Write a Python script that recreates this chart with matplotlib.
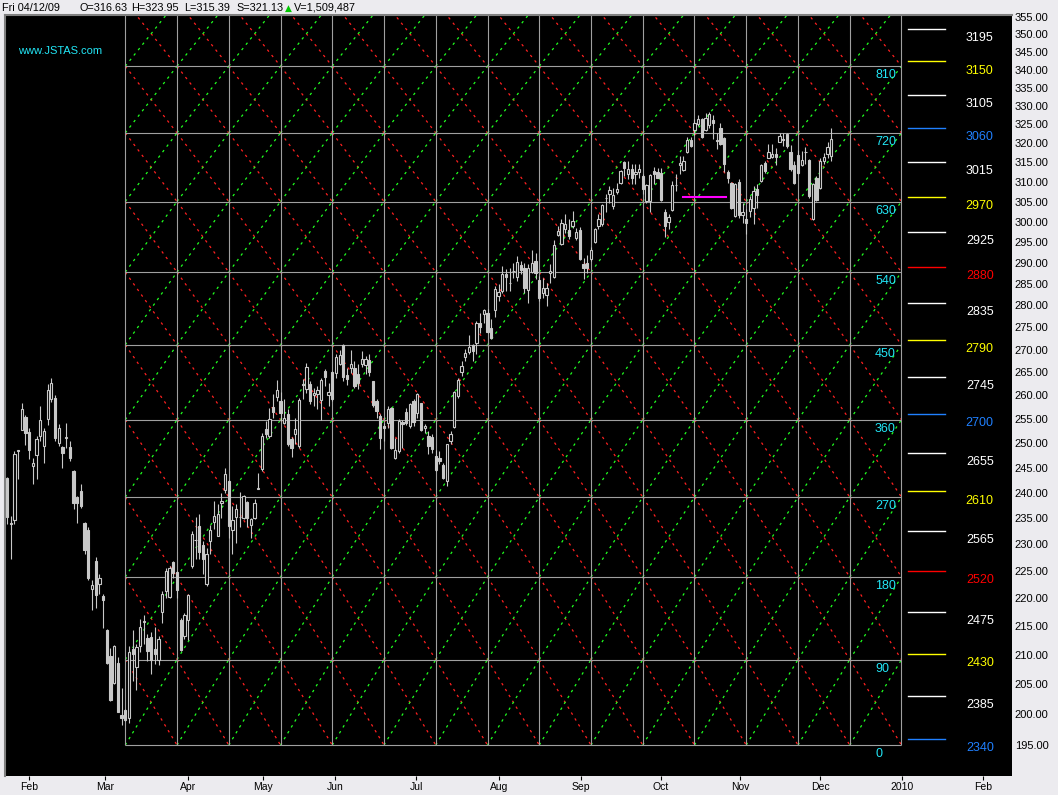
import numpy as np
import matplotlib
matplotlib.use('Agg')
import matplotlib.pyplot as plt
from matplotlib.collections import LineCollection
from matplotlib.ticker import FixedLocator, NullLocator, FuncFormatter
import matplotlib.transforms as mtrans

plt.rcParams['font.family'] = ['Liberation Sans', 'DejaVu Sans']

# daily bars, 23 Jan 2009 .. 4 Dec 2009
opens = [242.9, 234.1, 234.7, 248.4, 252.7, 255.4, 252.3, 245.3, 247.6, 251.5,
         249.4, 255.0, 259.3, 259.5, 250.0, 249.2, 251.1, 249.2, 244.3, 239.2,
         240.4, 234.1, 232.8, 221.7, 226.9, 222.6, 220.4, 214.4, 209.8, 205.2,
         208.6, 199.9, 200.7, 199.4, 211.0, 207.9, 211.6, 215.7, 212.9, 213.1,
         211.0, 209.1, 217.6, 221.4, 220.3, 226.7, 224.9, 216.1, 213.3, 216.1,
         226.0, 230.9, 233.5, 229.9, 222.6, 230.7, 234.3, 231.6, 238.0, 240.6,
         242.3, 232.8, 235.3, 235.3, 235.1, 238.2, 233.7, 235.1, 240.8, 244.7,
         252.9, 251.5, 257.5, 259.7, 258.8, 254.2, 256.1, 250.9, 251.9, 249.4,
         262.3, 261.5, 262.5, 260.1, 260.3, 259.1, 265.3, 260.1, 265.1, 264.9,
         266.8, 271.0, 264.4, 266.0, 266.0, 264.6, 266.8, 266.6, 267.7, 263.1,
         258.8, 255.6, 253.6, 254.2, 257.3, 247.0, 248.4, 254.4, 256.5, 253.6,
         258.8, 256.3, 258.4, 253.1, 251.5, 251.3, 247.4, 247.0, 245.5, 242.3,
         250.5, 253.4, 259.9, 265.1, 268.4, 269.5, 271.0, 271.5, 276.0, 278.1,
         278.3, 274.9, 279.0, 282.2, 283.4, 287.4, 285.3, 288.1, 286.7, 289.5,
         288.8, 283.6, 287.8, 290.5, 286.0, 282.9, 282.4, 287.6, 286.7, 296.7,
         294.5, 298.2, 298.0, 298.9, 296.0, 298.0, 289.7, 290.0, 291.0, 295.0,
         298.9, 299.4, 305.8, 306.9, 303.9, 307.4, 309.7, 315.1, 312.0, 313.3,
         312.0, 312.5, 311.5, 305.2, 305.2, 312.8, 312.5, 312.3, 302.4, 299.9,
         302.9, 309.2, 314.3, 313.1, 317.8, 320.8, 323.5, 325.1, 326.5, 323.5,
         324.9, 326.2, 320.8, 324.0, 321.3, 312.5, 309.8, 301.5, 310.0, 301.7,
         300.7, 302.7, 303.4, 308.2, 310.2, 314.9, 316.2, 316.5, 317.2, 320.4,
         321.0, 322.4, 317.8, 314.4, 317.0, 314.4, 317.7, 315.7, 300.7, 311.0,
         308.4, 315.4, 317.2, 316.63]
highs = [243.2, 235.4, 248.4, 248.6, 258.4, 255.9, 253.1, 247.0, 251.5, 257.8,
         253.1, 262.5, 263.8, 260.1, 254.0, 249.4, 254.2, 250.5, 244.5, 239.4,
         241.7, 234.3, 233.3, 223.4, 227.6, 224.5, 220.8, 214.5, 211.2, 211.7,
         209.6, 204.4, 200.8, 211.6, 214.4, 211.9, 216.3, 217.0, 213.6, 214.0,
         214.9, 213.3, 221.4, 225.6, 226.0, 226.9, 225.0, 216.5, 217.4, 220.8,
         232.6, 235.3, 235.8, 230.7, 229.3, 233.7, 238.4, 237.8, 239.9, 244.9,
         242.5, 237.4, 237.8, 240.1, 239.6, 238.4, 235.1, 238.8, 243.9, 252.1,
         254.6, 257.3, 260.3, 263.3, 260.8, 259.3, 257.1, 251.3, 255.2, 259.5,
         263.6, 267.1, 263.1, 261.6, 262.0, 263.8, 265.8, 262.7, 265.3, 269.0,
         269.9, 271.3, 266.0, 269.9, 267.5, 266.8, 269.7, 268.6, 269.0, 263.1,
         259.3, 256.1, 254.2, 257.8, 257.5, 251.1, 255.0, 254.8, 257.3, 258.4,
         259.3, 260.6, 258.4, 254.0, 252.5, 251.9, 248.6, 248.4, 246.0, 249.8,
         252.5, 261.0, 263.8, 267.5, 270.2, 273.3, 271.3, 276.5, 278.3, 279.2,
         279.2, 276.9, 284.6, 285.0, 289.3, 288.6, 288.8, 289.9, 291.7, 290.5,
         290.0, 289.7, 293.1, 292.4, 286.9, 286.4, 285.3, 289.7, 295.5, 299.0,
         300.7, 302.0, 300.7, 302.7, 298.5, 298.7, 291.2, 291.9, 293.8, 298.5,
         302.0, 304.4, 306.9, 309.0, 308.5, 309.7, 313.1, 315.4, 315.4, 314.6,
         314.6, 314.6, 312.0, 309.5, 312.0, 313.8, 313.6, 313.6, 303.2, 302.0,
         310.2, 312.0, 316.7, 316.7, 321.5, 321.5, 326.5, 327.4, 326.8, 328.1,
         328.4, 327.4, 322.7, 325.4, 321.5, 313.0, 309.9, 309.7, 310.8, 304.7,
         303.2, 306.4, 309.0, 309.5, 314.6, 315.4, 319.9, 319.9, 318.8, 322.7,
         322.7, 322.7, 319.4, 315.4, 318.3, 318.0, 319.1, 315.9, 309.7, 311.5,
         316.2, 317.5, 320.2, 323.95]
lows = [233.9, 227.3, 233.9, 242.7, 252.7, 249.6, 246.8, 241.7, 242.7, 250.5,
        246.0, 253.8, 258.6, 250.5, 249.4, 244.9, 249.0, 246.4, 236.8, 234.1,
        237.0, 228.2, 223.4, 217.9, 218.3, 220.8, 214.7, 208.5, 202.2, 205.1,
        200.3, 198.2, 198.9, 198.6, 205.5, 204.0, 210.5, 211.9, 209.0, 206.7,
        208.4, 208.3, 215.6, 220.1, 220.1, 223.7, 220.1, 210.7, 212.8, 212.6,
        225.6, 227.3, 227.3, 224.4, 222.2, 228.2, 233.0, 231.6, 235.1, 239.9,
        231.2, 228.2, 230.3, 233.3, 234.9, 233.3, 231.2, 234.9, 240.8, 244.3,
        251.1, 251.1, 255.2, 258.8, 254.6, 254.0, 249.4, 247.2, 249.8, 249.0,
        259.3, 260.6, 258.2, 257.8, 257.1, 254.8, 262.0, 257.8, 258.8, 263.8,
        266.6, 263.1, 262.2, 264.9, 261.6, 261.4, 266.2, 264.6, 264.2, 257.5,
        255.2, 248.8, 250.5, 253.1, 248.8, 246.8, 248.0, 249.0, 253.8, 253.1,
        253.6, 255.2, 252.5, 252.1, 247.8, 248.0, 244.3, 245.8, 242.7, 241.3,
        249.8, 253.1, 259.5, 264.2, 267.5, 269.0, 267.5, 269.0, 273.7, 276.0,
        273.7, 272.4, 277.4, 281.0, 282.9, 283.4, 283.4, 286.4, 285.7, 287.4,
        282.9, 280.6, 287.6, 286.2, 281.0, 281.7, 279.9, 285.3, 286.4, 296.5,
        294.3, 297.2, 295.8, 298.5, 295.5, 290.7, 286.2, 287.6, 290.5, 294.8,
        298.2, 298.9, 302.4, 304.7, 303.2, 306.9, 309.5, 311.5, 310.7, 309.5,
        309.5, 311.0, 306.9, 304.7, 302.5, 309.5, 311.0, 305.2, 296.2, 298.2,
        302.7, 307.7, 312.0, 312.8, 317.5, 318.9, 322.2, 324.6, 321.4, 323.3,
        324.1, 321.1, 318.6, 319.4, 312.5, 309.8, 303.2, 301.2, 301.0, 299.7,
        297.0, 301.2, 299.4, 303.4, 310.0, 312.3, 316.0, 316.0, 314.4, 320.2,
        319.2, 318.7, 312.8, 309.5, 312.0, 314.1, 314.6, 305.9, 300.4, 305.2,
        308.2, 314.6, 316.2, 315.39]
closes = [235.3, 234.0, 247.8, 248.6, 257.1, 252.1, 248.6, 246.0, 250.9, 254.8,
          252.5, 261.2, 262.7, 251.1, 253.1, 248.0, 251.2, 247.0, 238.0, 238.0,
          237.4, 228.9, 223.7, 222.4, 220.6, 223.7, 219.7, 208.6, 202.4, 211.6,
          200.4, 199.4, 199.1, 210.5, 210.2, 211.4, 214.9, 215.9, 210.7, 209.1,
          210.2, 212.8, 220.8, 225.0, 225.6, 224.7, 221.5, 210.9, 217.0, 220.6,
          232.0, 230.8, 228.6, 227.2, 228.2, 232.8, 235.4, 235.8, 238.4, 243.7,
          233.5, 234.7, 236.8, 235.2, 239.4, 235.1, 234.9, 238.0, 240.8, 251.5,
          251.9, 255.0, 256.5, 261.2, 256.3, 255.2, 249.8, 249.0, 252.9, 259.1,
          262.4, 266.2, 258.8, 260.5, 261.2, 263.3, 264.0, 260.8, 259.3, 268.4,
          268.8, 264.0, 263.6, 266.8, 262.0, 262.7, 267.9, 267.9, 265.1, 258.0,
          256.7, 251.1, 253.1, 257.1, 249.0, 248.6, 254.6, 254.0, 254.2, 258.2,
          254.4, 260.3, 252.7, 253.6, 249.4, 248.8, 244.5, 246.4, 243.0, 249.8,
          251.9, 260.8, 263.3, 266.4, 269.3, 270.6, 269.7, 276.0, 275.1, 279.0,
          274.0, 272.6, 283.8, 283.1, 287.4, 286.7, 285.2, 288.0, 290.2, 288.3,
          284.1, 288.8, 290.0, 287.6, 281.7, 284.1, 284.1, 288.1, 294.3, 297.7,
          299.7, 299.5, 296.5, 300.2, 297.5, 291.0, 288.8, 288.8, 293.1, 298.2,
          300.7, 304.2, 305.9, 307.9, 306.7, 308.2, 312.8, 313.6, 313.3, 311.0,
          312.5, 313.3, 308.2, 309.2, 311.8, 312.0, 311.0, 305.4, 298.9, 301.2,
          309.2, 309.3, 314.9, 315.4, 320.8, 319.2, 325.4, 326.5, 321.7, 326.8,
          327.9, 325.4, 320.7, 319.9, 314.6, 310.9, 303.3, 309.4, 301.7, 302.4,
          299.7, 305.7, 307.7, 306.7, 314.3, 312.8, 317.7, 317.2, 316.5, 322.0,
          320.9, 319.2, 313.3, 309.7, 312.3, 315.7, 317.8, 306.4, 309.4, 305.4,
          315.4, 316.4, 319.1, 321.13]

# month ticks (bar index positions)
month_pos = [5.9, 26.5, 49.0, 69.3, 88.7, 110.7, 133.1, 155.3, 176.9, 198.3, 220.0, 242.2, 264.1]
month_lab = ['Feb', 'Mar', 'Apr', 'May', 'Jun', 'Jul', 'Aug', 'Sep', 'Oct', 'Nov', 'Dec', '2010', 'Feb']

# gann grid: 90 degree price levels and time columns
grid_deg = [0, 90, 180, 270, 360, 450, 540, 630, 720, 810, 900]
grid_price = [195.00, 209.21, 223.93, 239.14, 254.86, 271.07, 287.78, 305.00, 322.71, 340.93, 359.64]
grid_x = list(range(32, 243, 14))

# square of nine levels on the right
sq_deg = [2340, 2385, 2430, 2475, 2520, 2565, 2610, 2655, 2700, 2745,
          2790, 2835, 2880, 2925, 2970, 3015, 3060, 3105, 3150, 3195]
sq_price = [196.00, 203.06, 210.25, 217.56, 225.00, 232.56, 240.25, 248.06, 256.00, 264.06,
            272.25, 280.56, 289.00, 297.56, 306.25, 315.06, 324.00, 333.06, 342.25, 351.56]
sq_col = ['#2080ff', 'white', 'yellow', 'white', 'red', 'white', 'yellow', 'white', '#2080ff', 'white',
          'yellow', 'white', 'red', 'white', 'yellow', 'white', '#2080ff', 'white', 'yellow', 'white']

price_ticks = list(range(195, 356, 5))

opens = np.array(opens); highs = np.array(highs)
lows = np.array(lows); closes = np.array(closes)
idx = np.arange(len(opens))

W, H = 1058, 795
fig = plt.figure(figsize=(W / 100, H / 100), dpi=100, facecolor='#ecebef')
ax = fig.add_axes([5 / W, 19 / H, 1007 / W, 761 / H], facecolor='black')
ax.set_yscale('log')
ax.set_xlim(-0.54, 271.9)
ax.set_ylim(190.1, 355.6)

# grid lines
gcol = '#a0a0a0'
hseg = [[(grid_x[0], p), (grid_x[-1], p)] for p in grid_price[:10]]
vseg = [[(x, grid_price[0]), (x, 400)] for x in grid_x]
ax.add_collection(LineCollection(hseg + vseg, colors=gcol, linewidths=0.8, zorder=2))

red_seg, green_seg = [], []
for i in range(len(grid_x) - 1):
    for k in range(len(grid_price) - 1):
        x0, x1 = grid_x[i], grid_x[i + 1]
        p0, p1 = grid_price[k], grid_price[k + 1]
        red_seg.append([(x0, p1), (x1, p0)])
        green_seg.append([(x0, p0), (x1, p1)])
ax.add_collection(LineCollection(red_seg, colors='#ff2020', linewidths=0.9,
                                 linestyles=[(0, (2, 3.5))], zorder=1))
ax.add_collection(LineCollection(green_seg, colors='#20ff20', linewidths=0.9,
                                 linestyles=[(0, (2, 3.5))], zorder=1))

# degree labels
blend = mtrans.blended_transform_factory(ax.transAxes, ax.transData)
for d, p in zip(grid_deg[:10], grid_price[:10]):
    ax.annotate(str(d), (0.864, p), xycoords=blend, xytext=(0, -6.5), textcoords='offset points',
                color='#22e6f6', fontsize=9, ha='left', va='center', zorder=6)

# square of nine panel
for d, p, c in zip(sq_deg, sq_price, sq_col):
    ax.plot([0.897, 0.933], [p, p], color=c, lw=1.0, transform=blend, zorder=6)
    ax.annotate(str(d), (0.968, p), xycoords=blend, xytext=(0, -6.5), textcoords='offset points',
                color=c, fontsize=9, ha='center', va='center', zorder=6)

# candles
cg = '#c8c8c8'
ax.vlines(idx, lows, highs, color=cg, lw=0.8, zorder=3)
up = closes >= opens
ax.bar(idx[up], np.maximum(closes[up] - opens[up], 0.08), bottom=opens[up], width=0.62,
       facecolor='black', edgecolor=cg, lw=0.8, zorder=4)
ax.bar(idx[~up], opens[~up] - closes[~up], bottom=closes[~up], width=0.62,
       facecolor=cg, edgecolor=cg, lw=0.8, zorder=4)

# magenta level
ax.plot([183, 194.5], [306.25, 306.25], color='#ff00ff', lw=1.5, zorder=5)

ax.text(0.013, 0.953, 'www.JSTAS.com', transform=ax.transAxes, color='#22e6f6', fontsize=8,
        ha='left', va='center')

# axes styling
for s in ['right', 'bottom']:
    ax.spines[s].set_visible(False)
for s in ['top', 'left']:
    ax.spines[s].set_color('#808080')
    ax.spines[s].set_linewidth(1.5)

ax.yaxis.tick_right()
ax.yaxis.set_major_locator(FixedLocator(price_ticks))
ax.yaxis.set_minor_locator(NullLocator())
ax.yaxis.set_major_formatter(FuncFormatter(lambda v, pos: '%.2f' % v))
ax.tick_params(axis='y', length=0, pad=2, labelsize=8, labelcolor='black')

ax.set_xticks(month_pos)
ax.set_xticklabels(month_lab)
ax.tick_params(axis='x', length=3, width=0.8, pad=1, labelsize=7.5, color='black')

# header line
hy = 1 - 8 / H
hdr = [(2, 'Fri 04/12/09'), (79, 'O=316.63'), (131, 'H=323.95'), (184, 'L=315.39'),
       (236, 'S=321.13'), (294, 'V=1,509,487')]
for px, t in hdr:
    fig.text(px / W, hy, t, fontsize=7.8, ha='left', va='center', color='black')
fig.text(285 / W, hy, '\u25b2', fontsize=6.5, ha='left', va='center', color='#00c800',
         family=['DejaVu Sans'])

fig.savefig('out.png', dpi=100, facecolor=fig.get_facecolor())
